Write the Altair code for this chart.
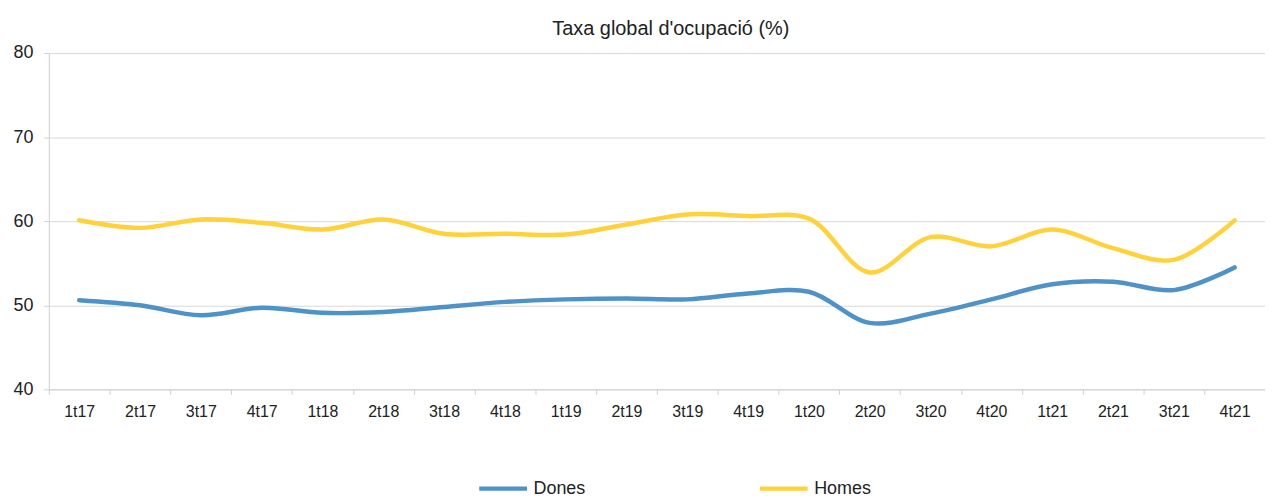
import altair as alt
import pandas as pd

quarters = ["1t17","2t17","3t17","4t17","1t18","2t18","3t18","4t18","1t19","2t19",
            "3t19","4t19","1t20","2t20","3t20","4t20","1t21","2t21","3t21","4t21"]
dones = [50.6, 50.0, 48.8, 49.7, 49.1, 49.2, 49.8, 50.4, 50.7, 50.8,
         50.7, 51.4, 51.6, 47.9, 49.0, 50.7, 52.5, 52.8, 51.8, 54.5]
homes = [60.1, 59.2, 60.2, 59.8, 59.0, 60.2, 58.5, 58.5, 58.4, 59.6,
         60.8, 60.6, 60.3, 53.9, 58.1, 57.0, 59.0, 56.8, 55.4, 60.1]
series = ["Dones", "Homes"]
colors = ["#4e92c7", "#ffd23c"]

rows = []
for q, d, h in zip(quarters, dones, homes):
    rows.append({"q": q, "s": "Dones", "v": d})
    rows.append({"q": q, "s": "Homes", "v": h})
df = pd.DataFrame(rows)

FONT = "Liberation Sans"

chart = alt.Chart(df).mark_line(strokeWidth=4.5, interpolate="catmull-rom", strokeCap="round").encode(
    x=alt.X("q:N", sort=quarters, title=None,
            scale=alt.Scale(type="band", paddingInner=0, paddingOuter=0),
            axis=alt.Axis(labelAngle=0, tickBand="extent", labelFontSize=16, labelColor="#222",
                          labelPadding=9, tickSize=5, tickColor="#d0d0d0", domainColor="#d0d0d0",
                          grid=False, labelFont=FONT)),
    y=alt.Y("v:Q", title=None, scale=alt.Scale(domain=[40, 80], nice=False, zero=False),
            axis=alt.Axis(values=[40, 50, 60, 70, 80], labelFontSize=18, labelColor="#222",
                          tickSize=5, tickColor="#d0d0d0", domainColor="#d0d0d0",
                          gridColor="#d9d9d9", labelPadding=11, labelFont=FONT)),
    color=alt.Color("s:N", scale=alt.Scale(domain=series, range=colors),
                    legend=alt.Legend(title=None, orient="none", direction="horizontal",
                                      legendX=430, legendY=411, symbolType="stroke",
                                      symbolSize=2304, symbolStrokeWidth=4.5,
                                      labelFontSize=18, labelFont=FONT, labelColor="#222",
                                      columnPadding=165, labelOffset=4)),
).properties(
    width=1222, height=338,
    title=alt.Title("Taxa global d'ocupació (%)", fontSize=20, fontWeight="normal",
                    font=FONT, color="#222", offset=5, dx=14),
    autosize=alt.AutoSizeParams(type="none"),
    padding={"left": 41, "top": 44, "right": 0, "bottom": 108},
).configure_view(stroke=None)

chart.save("out.html", embed_options={"renderer": "svg", "actions": False})
